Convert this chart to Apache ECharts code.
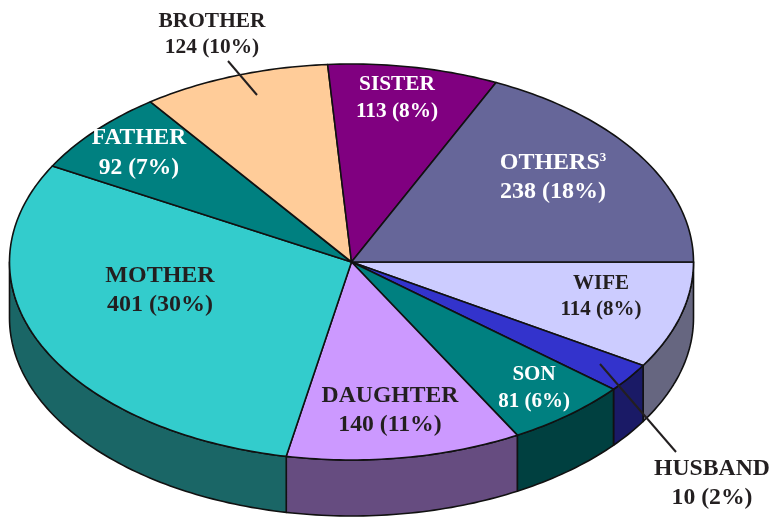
<!DOCTYPE html>
<html>
<head>
<meta charset="utf-8">
<style>html,body{margin:0;padding:0;background:#fff}#c{width:773px;height:517px}</style>
<script src="https://cdn.jsdelivr.net/npm/echarts@6/dist/echarts.min.js"></script>
</head>
<body>
<div id="c"></div>
<script>
// Data
const categories = ['WIFE','HUSBAND','SON','DAUGHTER','MOTHER','FATHER','BROTHER','SISTER','OTHERS'];
const counts     = [114, 10, 81, 140, 401, 92, 124, 113, 238];
const percents   = [8, 2, 6, 11, 30, 7, 10, 8, 18];
// Angular size of each slice as drawn (degrees; the
// husband slice is drawn larger than its printed count would give)
const sliceSizes = [31.5, 8.5, 21, 40, 108, 25, 32, 29, 65];

// Styles and layout
const topColors  = ['#CCCCFF','#3333CC','#008080','#CC99FF','#33CCCC','#008080','#FFCC99','#800080','#666699'];
const sideColors = ['#666680','#1A1A66','#004040','#664C80','#1A6666','#004040','#806650','#400040','#33334D'];
const labelColors= ['#231F20','#231F20','#FFFFFF','#231F20','#231F20','#FFFFFF','#231F20','#FFFFFF','#FFFFFF'];
const labelSizes = [21, 23.7, 21, 23.7, 24, 23.5, 21.4, 21.3, 24];
const labelX     = [601, 712, 534, 390, 160, 139, 212, 397, 553];
const labelY1    = [284, 469, 375, 396, 276, 138, 21, 84, 163];
const labelY2    = [310, 498, 402, 425, 305, 168, 47, 111, 192];
const leaders    = [[[228,61],[257,95]], [[600,364],[676,452]]];

const cx = 351.5, cy = 262, rx = 342, ry = 198, depth = 56;
const FONT = '"Liberation Serif","Times New Roman",serif';
const INK = '#111';
const rad = d => d * Math.PI / 180;
const pt = (d, dy) => [cx + rx * Math.cos(rad(d)), cy + ry * Math.sin(rad(d)) + (dy || 0)];
const arc = (a, b, dy) => { const p = []; const n = Math.max(2, Math.ceil(Math.abs(b - a))); for (let i = 0; i <= n; i++) p.push(pt(a + (b - a) * i / n, dy)); return p; };

const total = sliceSizes.reduce((s, v) => s + v, 0);
const starts = []; sliceSizes.reduce((s, v, i) => (starts[i] = s, s + v * 360 / total), 0);

function renderWall(params, api) {
  const i = api.value(0), a = starts[i], b = a + sliceSizes[i] * 360 / total;
  const lo = Math.max(a, 0), hi = Math.min(b, 180);
  if (hi <= lo) return { type: 'group', children: [] };
  const pts = arc(lo, hi, 0).concat(arc(hi, lo, depth));
  return { type: 'polygon', shape: { points: pts }, style: { fill: sideColors[i], stroke: INK, lineWidth: 1.6, lineJoin: 'round' } };
}
function renderTop(params, api) {
  const i = api.value(0), a = starts[i], b = a + sliceSizes[i] * 360 / total;
  const pts = [[cx, cy]].concat(arc(a, b, 0));
  return { type: 'polygon', z2: 10, shape: { points: pts }, style: { fill: topColors[i], stroke: INK, lineWidth: 1.6, lineJoin: 'round' } };
}
const rows = categories.map((n, i) => [i, sliceSizes[i], n]);

const graphics = [];
leaders.forEach(l => graphics.push({ type: 'line', z: 20, shape: { x1: l[0][0], y1: l[0][1], x2: l[1][0], y2: l[1][1] }, style: { stroke: '#231F20', lineWidth: 2 } }));
categories.forEach((n, i) => {
  const base = { fontFamily: FONT, fontWeight: 'bold', fontSize: labelSizes[i], fill: labelColors[i], align: 'center', verticalAlign: 'middle' };
  const head = n === 'OTHERS'
    ? { text: '{a|OTHERS}{b|3}', rich: { a: { fontFamily: FONT, fontWeight: 'bold', fontSize: labelSizes[i], fill: labelColors[i], lineHeight: 24 }, b: { fontFamily: FONT, fontWeight: 'bold', fontSize: 13, fill: labelColors[i], lineHeight: 24, verticalAlign: 'top', padding: [0,0,8,0] } } }
    : { text: n };
  graphics.push({ type: 'text', z: 30, x: labelX[i], y: labelY1[i], style: Object.assign({}, base, head) });
  graphics.push({ type: 'text', z: 30, x: labelX[i], y: labelY2[i], style: Object.assign({}, base, { text: counts[i] + ' (' + percents[i] + '%)' }) });
});

const chart = echarts.init(document.getElementById('c'), null, { renderer: 'canvas' });
chart.setOption({
  animation: false,
  backgroundColor: '#fff',
  series: [
    { type: 'custom', coordinateSystem: 'none', silent: true, z: 1, data: rows, renderItem: renderWall },
    { type: 'custom', coordinateSystem: 'none', silent: true, z: 2, data: rows, renderItem: renderTop }
  ],
  graphic: { elements: graphics }
});
</script>
</body>
</html>
